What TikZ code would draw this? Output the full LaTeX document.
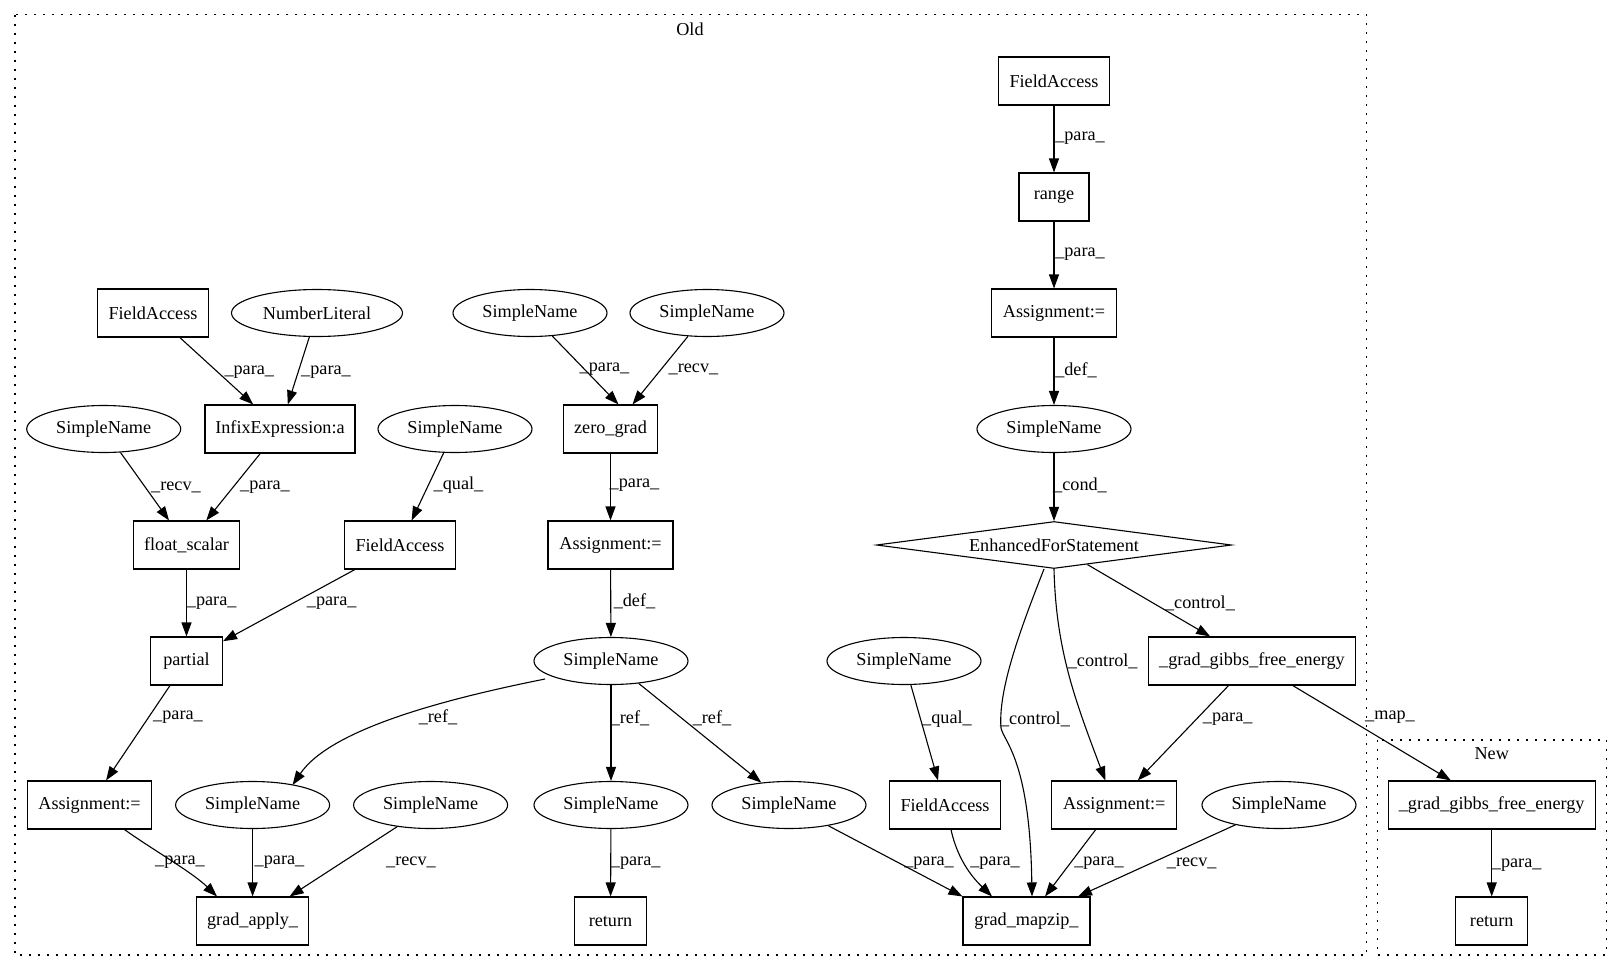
\documentclass[tikz,border=0pt]{standalone}
\usepackage{fontspec}
\setmainfont{Liberation Serif}
\usetikzlibrary{shapes.geometric,arrows.meta,calc}
\begin{document}
\begin{tikzpicture}[x=1pt,y=-1pt,
  every node/.style={font=\fontsize{18.2}{22}\selectfont},
  box/.style={draw,line width=1.1pt,rectangle,inner sep=0pt,minimum height=48pt},
  ell/.style={draw,line width=1.1pt,ellipse,inner sep=0pt,minimum width=154pt,minimum height=47pt},
  dia/.style={draw,line width=1.1pt,diamond,aspect=7.5,inner sep=0pt,minimum width=355pt,minimum height=47pt},
  edge/.style={draw,line width=1.1pt,-{Triangle[length=14pt,width=10pt]}},
  lbl/.style={inner sep=0pt},
  clus/.style={draw,line width=1.3pt,dash pattern=on 2pt off 7pt}]
\useasboundingbox (0,0) rectangle (1623,972);
% clusters
\draw[clus] (15,14.5) rectangle (1366.7,955);
\node[lbl] (oldl) at (690,29) {Old};
\draw[clus] (1377.3,740) rectangle (1606.7,955);
\node[lbl] (newl) at (1491.7,754) {New};
% nodes
\node[box,minimum width=111pt] (fa1) at (1054,81) {FieldAccess};
\node[box,minimum width=70pt] (rng) at (1054,197) {range};
\node[box,minimum width=125pt] (as1) at (1054,313) {Assignment:=};
\node[ell] (sn1) at (1054,429) {SimpleName};
\node[dia] (efs) at (1054,545) {EnhancedForStatement};
\node[box,minimum width=207pt] (gg1) at (1252,661) {\_grad\_gibbs\_free\_energy};
\node[box,minimum width=125pt] (as2) at (1114.3,805) {Assignment:=};
\node[ell] (sn2) at (1279,805) {SimpleName};
\node[box,minimum width=127pt] (gm) at (1026.5,921) {grad\_mapzip\_};
\node[ell] (sn3) at (904,661) {SimpleName};
\node[box,minimum width=111pt] (fa2) at (945,805) {FieldAccess};
\node[box,minimum width=111pt] (fa3) at (153,313) {FieldAccess};
\node[ell,minimum width=171pt] (nl) at (317,313) {NumberLiteral};
\node[box,minimum width=150pt] (ix) at (280,429) {InfixExpression:a};
\node[ell] (sn4) at (103.7,429) {SimpleName};
\node[ell] (sn5) at (455,429) {SimpleName};
\node[box,minimum width=106pt] (fs) at (186.5,545) {float\_scalar};
\node[box,minimum width=111pt] (fa4) at (400,545) {FieldAccess};
\node[box,minimum width=72pt] (pa) at (186.5,661) {partial};
\node[box,minimum width=124pt] (as3) at (89.5,805) {Assignment:=};
\node[ell] (sn6) at (530,313) {SimpleName};
\node[ell] (sn7) at (707,313) {SimpleName};
\node[box,minimum width=94pt] (zg) at (610.5,429) {zero\_grad};
\node[box,minimum width=125pt] (as4) at (610.5,545) {Assignment:=};
\node[ell] (sn8) at (611,661) {SimpleName};
\node[ell] (sn9) at (252.6,805) {SimpleName};
\node[ell] (sn10) at (430.6,805) {SimpleName};
\node[ell] (sn11) at (611,805) {SimpleName};
\node[ell] (sn12) at (789,805) {SimpleName};
\node[box,minimum width=112pt] (ga) at (252.6,921) {grad\_apply\_};
\node[box,minimum width=72pt] (rt1) at (610.5,921) {return};
\node[box,minimum width=207pt] (gg2) at (1491.7,805) {\_grad\_gibbs\_free\_energy};
\node[box,minimum width=72pt] (rt2) at (1491.7,921) {return};
% edges right part
\draw[edge] (fa1) -- (rng);
\draw[edge] (rng) -- (as1);
\draw[edge] (as1) -- (sn1);
\draw[edge] (sn1) -- (efs);
\draw[edge] (efs) -- (gg1);
\draw[edge] (efs.south) .. controls (1056,650) and (1075,700) .. ($(as2.north)+(-9,0)$);
\draw[edge] ($(efs.south)+(-10,0)$) .. controls (1020,630) and (998,690) .. (1001,728) .. controls (1004,742) and (1030,760) .. ($(gm.north)+(5.5,0)$);
\draw[edge] (gg1) -- (as2);
\draw[edge] (sn3) -- (fa2);
\draw[edge] ($(fa2.south)+(6,0)$) .. controls (958,862) and (975,880) .. ($(gm.north)+(-34.5,0)$);
\draw[edge] (as2) -- (gm);
\draw[edge] (sn2) -- ($(gm.north)+(51.5,0)$);
\draw[edge] (sn12) -- (gm.north west);
\draw[edge] (gg1) -- (gg2);
\draw[edge] (gg2) -- (rt2);
% edges left part
\draw[edge] (fa3) -- (ix);
\draw[edge] (nl) -- (ix);
\draw[edge] (sn4) -- (fs);
\draw[edge] (ix) -- (fs);
\draw[edge] (sn5) -- (fa4);
\draw[edge] (fs) -- (pa);
\draw[edge] (fa4) -- (pa);
\draw[edge] (pa) -- (as3);
\draw[edge] ($(as3.south)+(35,0)$) .. controls (150,848) and (192,872) .. ($(ga.north)+(-35.6,0)$);
\draw[edge] (sn9) -- (ga);
\draw[edge] (sn10) -- ($(ga.north)+(37,0)$);
\draw[edge] (sn6) -- ($(zg.north)+(8,0)$);
\draw[edge] (sn7) -- ($(zg.north)+(22,0)$);
\draw[edge] (zg) -- (as4);
\draw[edge] (as4) -- (sn8);
\draw[edge] (sn8) -- (sn11);
\draw[edge] (sn11) -- (rt1);
\draw[edge] (545,679) .. controls (440,700) and (330,730) .. ($(sn9.north)+(40,4)$);
\draw[edge] (sn8) -- (sn12);
% labels
\node[lbl] (l1) at (1080,138) {\_para\_};
\node[lbl] (l2) at (1080,254) {\_para\_};
\node[lbl] (l3) at (1076,370) {\_def\_};
\node[lbl] (l4) at (1080,485) {\_cond\_};
\node[lbl] (l5) at (1200,603) {\_control\_};
\node[lbl] (l6) at (1102.7,661.7) {\_control\_};
\node[lbl] (l7) at (1035,719) {\_control\_};
\node[lbl] (l8) at (1227.7,719) {\_para\_};
\node[lbl] (l9) at (947,719) {\_qual\_};
\node[lbl] (l10) at (929,863) {\_para\_};
\node[lbl] (l11) at (995,863) {\_para\_};
\node[lbl] (l12) at (1099,863) {\_para\_};
\node[lbl] (l13) at (1191.7,863) {\_recv\_};
\node[lbl] (l14) at (1390,717.3) {\_map\_};
\node[lbl] (l15) at (1516.7,865) {\_para\_};
\node[lbl] (l16) at (249.3,371.7) {\_para\_};
\node[lbl] (l17) at (326,371.7) {\_para\_};
\node[lbl] (l18) at (176,487.3) {\_recv\_};
\node[lbl] (l19) at (265,487.3) {\_para\_};
\node[lbl] (l20) at (458.5,485.5) {\_qual\_};
\node[lbl] (l21) at (211.7,603.3) {\_para\_};
\node[lbl] (l22) at (331.7,603.3) {\_para\_};
\node[lbl] (l23) at (178,717) {\_para\_};
\node[lbl] (l24) at (604.5,369.5) {\_para\_};
\node[lbl] (l25) at (693.5,369.5) {\_recv\_};
\node[lbl] (l26) at (634.5,485.5) {\_para\_};
\node[lbl] (l27) at (634.5,601) {\_def\_};
\node[lbl] (l28) at (438,717) {\_ref\_};
\node[lbl] (l29) at (630,718) {\_ref\_};
\node[lbl] (l30) at (712,718) {\_ref\_};
\node[lbl] (l31) at (635.7,863.3) {\_para\_};
\node[lbl] (l32) at (180,862) {\_para\_};
\node[lbl] (l33) at (279.5,862) {\_para\_};
\node[lbl] (l34) at (411,862) {\_recv\_};
\end{tikzpicture}
\end{document}
